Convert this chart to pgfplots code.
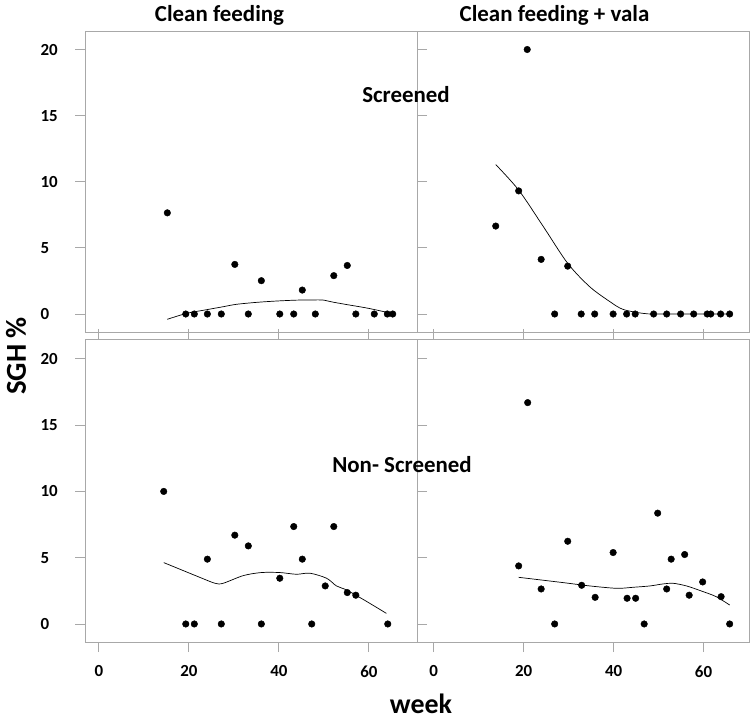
\documentclass[border=0pt]{standalone}
\usepackage{fontspec}
\setmainfont{Carlito}
\usepackage{pgfplots}
\pgfplotsset{compat=1.18}

\definecolor{frame}{HTML}{A8A8A8}
\definecolor{smooth}{HTML}{5A5A5A}

\pgfplotsset{
  panel/.style={
    scale only axis, width=332bp,
    axis line style={frame, line width=0.9bp},
    tick style={frame, line width=0.9bp},
    tick align=outside, major tick length=10bp,
    ymin=-1.36, ytick=\empty, xtick=\empty,
    /pgf/number format/assume math mode=true,
    ticklabel style={font=\bfseries\fontsize{17}{17}\selectfont, text=black},
    xticklabel style={yshift=-10bp},
    clip=false,
  },
  pts/.style={only marks, mark=*, mark size=3.3bp, black},
  lo/.style={no marks, line width=0.7bp, smooth},
}

\begin{document}
\begin{tikzpicture}
\useasboundingbox (0bp,0bp) rectangle (754bp,722bp);

% Screened, clean feeding
\begin{axis}[panel, at={(85bp,390bp)}, anchor=south west, height=301bp,
    xmin=-3.1, xmax=70.7, ymax=21.4, ytick={0,5,10,15,20},
    yticklabel style={anchor=west, xshift=-38bp}]
\addplot[pts] coordinates {(15.2,7.65) (19.3,0) (21.2,0) (24.1,0) (27.2,0) (30.2,3.75) (33.2,0) (36.1,2.52) (40.2,0) (43.3,0) (45.2,1.81) (48.1,0) (52.2,2.9) (55.2,3.67) (57.1,0) (61.2,0) (64.1,0) (65.3,0)};
\addplot[lo] coordinates {(15.2,-0.4) (19.5,0.05) (23.5,0.3) (27.6,0.55) (30.5,0.73) (35,0.88) (39.4,0.98) (44,1.05) (47.5,1.06) (49.7,1.06) (52,0.9) (54.8,0.73) (59.9,0.43) (65.0,0.05)};
\end{axis}

% Screened, clean feeding + vala
\begin{axis}[panel, at={(417bp,390bp)}, anchor=south west, height=301bp,
    xmin=-3.7, xmax=70.1, ymax=21.4]
\addplot[pts] coordinates {(13.8,6.65) (18.9,9.31) (20.8,20.0) (23.9,4.13) (26.9,0) (29.8,3.62) (32.8,0) (35.8,0) (39.9,0) (42.9,0) (44.8,0) (48.9,0) (51.8,0) (54.9,0) (57.8,0) (60.8,0) (61.6,0) (63.8,0) (65.8,0)};
\addplot[lo] coordinates {(13.8,11.3) (18.9,9.37) (24.4,6.6) (29.8,3.83) (34.7,2.06) (39.2,0.93) (42.1,0.35) (46.5,0.05) (50,0) (65.8,0)};
\end{axis}

% Non-screened, clean feeding
\begin{axis}[panel, at={(85bp,80bp)}, anchor=south west, height=303bp,
    xmin=-3.1, xmax=70.7, ymax=21.5, ytick={0,5,10,15,20}, xtick={0,20,40,60},
    yticklabel style={anchor=west, xshift=-38bp}]
\addplot[pts] coordinates {(14.4,10.0) (19.3,0) (21.2,0) (24.1,4.89) (27.2,0) (30.2,6.7) (33.2,5.89) (36.1,0) (40.2,3.45) (43.3,7.35) (45.2,4.89) (47.3,0) (50.3,2.87) (52.2,7.35) (55.2,2.37) (57.1,2.17) (64.2,0)};
\addplot[lo] coordinates {(14.4,4.63) (18,4.13) (22.4,3.52) (25.8,3.07) (27.6,3.07) (32.1,3.65) (36.1,3.88) (40.2,3.88) (43.9,3.75) (46.9,3.83) (50.6,3.45) (52.8,2.87) (55.0,2.57) (58.7,1.86) (63.9,0.8)};
\end{axis}

% Non-screened, clean feeding + vala
\begin{axis}[panel, at={(417bp,80bp)}, anchor=south west, height=303bp,
    xmin=-3.7, xmax=70.1, ymax=21.5, xtick={0,20,40,60}]
\addplot[pts] coordinates {(18.9,4.38) (20.9,16.7) (23.9,2.64) (26.9,0) (29.8,6.24) (32.9,2.92) (35.9,2.01) (39.9,5.39) (43.0,1.94) (44.9,1.94) (46.8,0) (49.8,8.36) (51.8,2.64) (52.8,4.89) (55.8,5.24) (56.8,2.17) (59.8,3.17) (63.9,2.06) (65.8,0)};
\addplot[lo] coordinates {(18.9,3.52) (28.8,3.12) (34.7,2.87) (40.7,2.69) (44.4,2.77) (48.1,2.87) (51.0,3.02) (53.2,3.07) (56.2,2.87) (59.9,2.44) (62.8,2.06) (65.8,1.43)};
\end{axis}

\node[font=\bfseries\fontsize{23}{23}\selectfont] at (219.5bp,707bp) {Clean feeding};
\node[font=\bfseries\fontsize{23}{23}\selectfont] at (554.5bp,707bp) {Clean feeding + vala};
\node[font=\bfseries\fontsize{23}{23}\selectfont] at (406bp,627bp) {Screened};
\node[font=\bfseries\fontsize{23}{23}\selectfont] at (402bp,257bp) {Non- Screened};
\node[font=\bfseries\fontsize{29}{29}\selectfont, rotate=90] at (16bp,366bp) {SGH \%};
\node[font=\bfseries\fontsize{28}{28}\selectfont, inner sep=0pt, anchor=base] at (421bp,9bp) {week};
\end{tikzpicture}
\end{document}
